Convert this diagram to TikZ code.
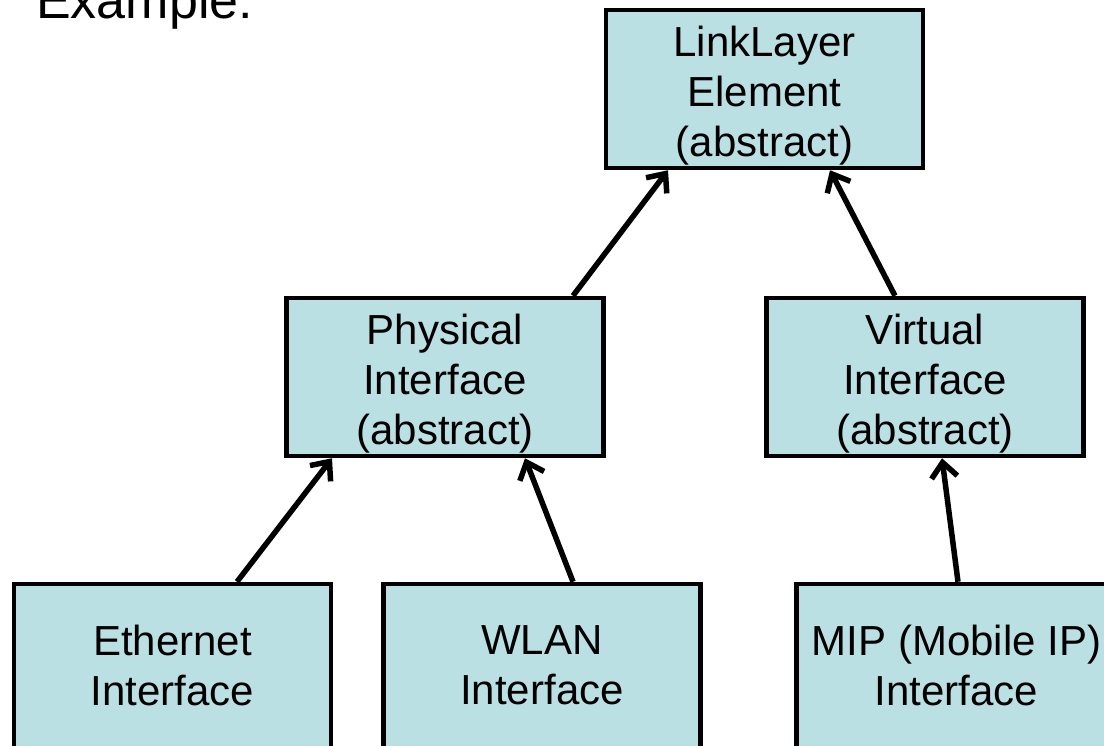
\documentclass[tikz,border=0pt]{standalone}
\usepackage{fontspec}
\setmainfont{Liberation Sans}
\usetikzlibrary{arrows.meta}
\definecolor{boxfill}{RGB}{187,224,227}
\begin{document}
\begin{tikzpicture}[x=1pt,y=-1pt,
  cls/.style={draw=black,line width=4.5pt,fill=boxfill,minimum width=317pt,minimum height=158pt,
    inner sep=0pt,align=center,font=\fontsize{42pt}{50pt}\selectfont},
  low/.style={minimum height=175pt},
  inh/.style={line width=5.5pt,-{Straight Barb[length=15pt,width=26pt]}}]
\useasboundingbox (0,0) rectangle (1104,745);
\node[anchor=base west,inner sep=0pt,font=\fontsize{52pt}{60pt}\selectfont] (ex) at (36,18) {Example:};
\node[cls] (top) at (764.5,89) {\parbox{300pt}{\centering\vspace*{13pt}LinkLayer\\Element\\(abstract)}};
\node[cls] (phys) at (445,377) {\parbox{300pt}{\centering\vspace*{13pt}Physical\\Interface\\(abstract)}};
\node[cls] (virt) at (925,377) {\parbox{300pt}{\centering\vspace*{13pt}Virtual\\Interface\\(abstract)}};
\node[cls,low] (eth) at (172.5,671.5) {\parbox{300pt}{\centering Ethernet\\Interface\par\vspace*{13pt}}};
\node[cls,low] (wlan) at (542,671.5) {\parbox{300pt}{\centering WLAN\\Interface\par\vspace*{13pt}}};
\node[cls,low] (mip) at (956.5,671.5) {\parbox{320pt}{\centering MIP (Mobile IP)\\Interface\par\vspace*{13pt}}};
\draw[inh] ([xshift=128pt]phys.north) -- ([xshift=-96.5pt]top.south);
\draw[inh] ([xshift=-30pt]virt.north) -- ([xshift=65.5pt]top.south);
\draw[inh] ([xshift=64.5pt]eth.north) -- ([xshift=-113pt]phys.south);
\draw[inh] ([xshift=31pt]wlan.north) -- ([xshift=80pt]phys.south);
\draw[inh] ([xshift=1.5pt]mip.north) -- ([xshift=17pt]virt.south);
\end{tikzpicture}
\end{document}
